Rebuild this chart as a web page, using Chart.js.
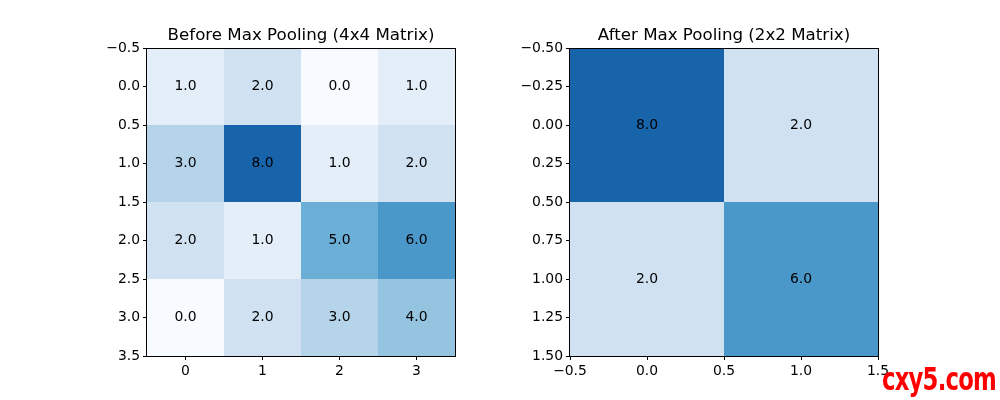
<!DOCTYPE html>
<html>
<head>
<meta charset="utf-8">
<script src="https://cdn.jsdelivr.net/npm/chart.js@4"></script>
<style>
  body { margin: 0; background: #fff; }
  .wrap { position: absolute; top: 0; width: 500px; height: 400px; }
  #mark {
    position: absolute; left: 882px; top: 360px;
    font-family: "DejaVu Sans Condensed", "DejaVu Sans"; font-weight: bold;
    font-size: 32px; color: #ff0000; letter-spacing: -1px;
    transform-origin: 0 0; transform: scaleX(0.79);
  }
</style>
</head>
<body>
<div class="wrap" style="left:0"><canvas id="left" width="500" height="400"></canvas></div>
<div class="wrap" style="left:500px"><canvas id="right" width="500" height="400"></canvas></div>
<div id="mark">cxy5.com</div>
<script>
// matrices (row = y index, col = x index)
const beforeMatrix = [
  [1, 2, 0, 1],
  [3, 8, 1, 2],
  [2, 1, 5, 6],
  [0, 2, 3, 4]
];
const afterMatrix = [
  [8, 2],
  [2, 6]
];
const beforeTitle = "Before Max Pooling (4x4 Matrix)";
const afterTitle = "After Max Pooling (2x2 Matrix)";
const beforeXTicks = [0, 1, 2, 3];
const beforeYTicks = [-0.5, 0, 0.5, 1, 1.5, 2, 2.5, 3, 3.5];
const afterXTicks = [-0.5, 0, 0.5, 1, 1.5];
const afterYTicks = [-0.5, -0.25, 0, 0.25, 0.5, 0.75, 1, 1.25, 1.5];

// Blues colormap, values scaled 0..10
const blues = ["#f7fbff", "#deebf7", "#c6dbef", "#9ecae1", "#6baed6", "#4292c6", "#2171b5", "#08519c", "#08306b"];
function cmap(v) {
  let t = Math.max(0, Math.min(1, v / 10)) * (blues.length - 1);
  let i = Math.min(Math.floor(t), blues.length - 2);
  let f = t - i;
  let a = blues[i], b = blues[i + 1];
  let out = "#";
  for (let k = 1; k < 7; k += 2) {
    let x = parseInt(a.substr(k, 2), 16), y = parseInt(b.substr(k, 2), 16);
    out += Math.round(x + (y - x) * f).toString(16).padStart(2, "0");
  }
  return out;
}

function fmt(dec) {
  return (v) => Number(v).toFixed(dec).replace("-", "\u2212");
}

const font = { family: "DejaVu Sans", size: 13.9 };

const heatmap = {
  id: "heatmap",
  beforeDatasetsDraw(chart) {
    const opts = chart.options.plugins.heatmap;
    const m = opts.matrix;
    const xs = chart.scales.x, ys = chart.scales.y, ctx = chart.ctx;
    const a = chart.chartArea;
    m.forEach((row, r) => row.forEach((v, c) => {
      const x0 = xs.getPixelForValue(c - 0.5), x1 = xs.getPixelForValue(c + 0.5);
      const y0 = ys.getPixelForValue(r - 0.5), y1 = ys.getPixelForValue(r + 0.5);
      ctx.fillStyle = cmap(v);
      ctx.fillRect(x0, y0, x1 - x0, y1 - y0);
    }));
    ctx.fillStyle = "#000";
    ctx.font = font.size + "px " + font.family;
    ctx.textAlign = "center";
    ctx.textBaseline = "middle";
    m.forEach((row, r) => row.forEach((v, c) => {
      ctx.fillText(v.toFixed(1), xs.getPixelForValue(c), ys.getPixelForValue(r));
    }));
    // axes title, centred over the plot area
    ctx.font = "16.67px DejaVu Sans";
    ctx.textBaseline = "alphabetic";
    ctx.fillText(opts.title, (a.left + a.right) / 2, a.top - 8);
  },
  afterDraw(chart) {
    const a = chart.chartArea, ctx = chart.ctx;
    ctx.save();
    ctx.strokeStyle = "#000";
    ctx.lineWidth = 1;
    ctx.strokeRect(Math.round(a.left) - 0.5, Math.round(a.top) + 0.5, a.right - a.left + 1, a.bottom - a.top);
    ctx.restore();
  }
};

function makeChart(id, matrix, title, xTicks, yTicks, xDec, yDec, yWidth, rightPad) {
  const n = matrix.length;
  return new Chart(document.getElementById(id), {
    type: "scatter",
    data: { datasets: [{ data: [], pointRadius: 0 }] },
    plugins: [heatmap],
    options: {
      responsive: false,
      animation: false,
      devicePixelRatio: 1,
      layout: { padding: { left: 0, right: rightPad, top: 48, bottom: 0 } },
      plugins: {
        legend: { display: false },
        tooltip: { enabled: false },
        heatmap: { matrix: matrix, title: title },
        title: { display: false }
      },
      scales: {
        x: {
          type: "linear",
          min: -0.5, max: n - 0.5,
          afterBuildTicks: (s) => { s.ticks = xTicks.map(v => ({ value: v })); },
          afterFit: (s) => { s.height = 44; },
          grid: { drawOnChartArea: false, drawTicks: true, tickLength: 4, color: "#000" },
          border: { display: false },
          ticks: { color: "#000", font: font, padding: 3, maxRotation: 0, autoSkip: false, callback: fmt(xDec) }
        },
        y: {
          type: "linear",
          reverse: true,
          min: -0.5, max: n - 0.5,
          afterBuildTicks: (s) => { s.ticks = yTicks.map(v => ({ value: v })); },
          afterFit: (s) => { s.width = yWidth; },
          grid: { drawOnChartArea: false, drawTicks: true, tickLength: 4, color: "#000" },
          border: { display: false },
          ticks: { color: "#000", font: font, padding: 3, autoSkip: false, callback: fmt(yDec) }
        }
      }
    }
  });
}

makeChart("left", beforeMatrix, beforeTitle, beforeXTicks, beforeYTicks, 0, 1, 147, 45);
makeChart("right", afterMatrix, afterTitle, afterXTicks, afterYTicks, 1, 2, 70, 122);
</script>
</body>
</html>
